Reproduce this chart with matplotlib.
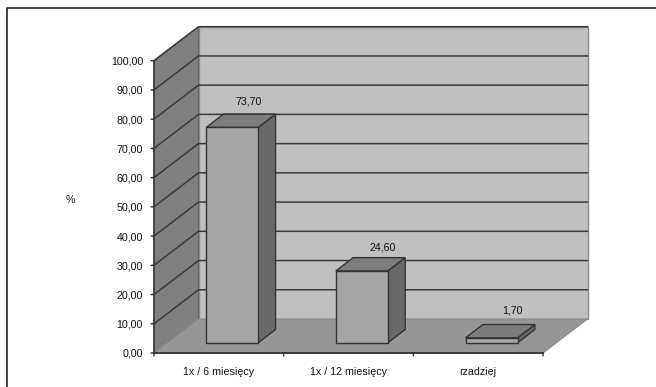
import matplotlib.pyplot as plt
from matplotlib.patches import Polygon

categories = ["1x / 6 miesięcy", "1x / 12 miesięcy", "rzadziej"]
values = [73.70, 24.60, 1.70]
value_labels = ["73,70", "24,60", "1,70"]
y_ticks = [0, 10, 20, 30, 40, 50, 60, 70, 80, 90, 100]
y_tick_labels = ["0,00", "10,00", "20,00", "30,00", "40,00", "50,00",
                 "60,00", "70,00", "80,00", "90,00", "100,00"]

plt.rcParams['font.family'] = ['Liberation Sans', 'DejaVu Sans']

W, H = 656, 387
FS = 7.7
TXT = '#111111'
fig = plt.figure(figsize=(W / 100, H / 100), dpi=100)
# axes box is the front plane of the 3d chart
ax = fig.add_axes([154 / W, 1 - 353 / H, (543 - 154) / W, (353 - 60.7) / H])
ax.set_xlim(0, 3)
ax.set_ylim(0, 100)
ax.axis('off')

# depth of the box, in data units
DX = 44.5 / (389 / 3)
DY = 34 / 2.923
EDGE = '#333333'


def pt(x, y, d=0):
    return (x + d * DX, y + d * DY)


def poly(points, color, z=1, lw=1.0, edge=EDGE):
    ax.add_patch(Polygon(points, closed=True, facecolor=color, edgecolor=edge,
                         linewidth=lw, zorder=z, clip_on=False))


# walls and floor
poly([pt(0, 0, 1), pt(3, 0, 1), pt(3, 100, 1), pt(0, 100, 1)], '#c0c0c0', 1, 1.0, '#8c8c8c')
poly([pt(0, 0), pt(0, 0, 1), pt(0, 100, 1), pt(0, 100)], '#808080', 1, 0.8, '#666666')
poly([pt(0, 0), pt(3, 0), pt(3, 0, 1), pt(0, 0, 1)], '#969696', 1, 0.8, '#8c8c8c')

# gridlines run along the side wall and then the back wall
for t in y_ticks[1:]:
    xs, ys = zip(pt(0, t), pt(0, t, 1), pt(3, t, 1))
    ax.plot(xs, ys, color='#3a3a3a', lw=1.1, zorder=2, clip_on=False)
ax.plot(*zip(pt(0, 0), pt(0, 100)), color='#333333', lw=1.1, zorder=2, clip_on=False)
ax.plot(*zip(pt(0, 0), pt(3, 0)), color='#333333', lw=1.3, zorder=2, clip_on=False)

# bars
BAR_W = 52 / (389 / 3)
D0, D1 = 0.30, 0.69
label_nudge = [(-1, 13), (3, 10), (4, 14)]
for i, v in enumerate(values):
    x0 = i + 0.5 - BAR_W / 2
    x1 = x0 + BAR_W
    poly([pt(x1, 0, D0), pt(x1, 0, D1), pt(x1, v, D1), pt(x1, v, D0)], '#696969', 3)
    poly([pt(x0, v, D0), pt(x1, v, D0), pt(x1, v, D1), pt(x0, v, D1)], '#7d7d7d', 3)
    poly([pt(x0, 0, D0), pt(x1, 0, D0), pt(x1, v, D0), pt(x0, v, D0)], '#a6a6a6', 3)
    lx, ly = pt(i + 0.5, v, D1)
    ax.annotate(value_labels[i], (lx, ly), xytext=label_nudge[i], textcoords='offset pixels',
                ha='center', va='center', fontsize=FS, color=TXT, zorder=5)

# ticks and labels
for t, lab in zip(y_ticks, y_tick_labels):
    ax.annotate('', (0, t), xytext=(-3, 0), textcoords='offset pixels',
                arrowprops=dict(arrowstyle='-', color='#333333', lw=1.0, shrinkA=0, shrinkB=0))
    ax.annotate(lab, (0, t), xytext=(-11, -1), textcoords='offset pixels',
                ha='right', va='center', fontsize=FS, color=TXT)
for i in range(len(categories) + 1):
    ax.annotate('', (i, 0), xytext=(0, -3), textcoords='offset pixels',
                arrowprops=dict(arrowstyle='-', color='#333333', lw=1.0, shrinkA=0, shrinkB=0))
for i, c in enumerate(categories):
    ax.annotate(c, (i + 0.5, 0), xytext=(0, -19), textcoords='offset pixels',
                ha='center', va='center', fontsize=FS, color=TXT)

fig.text(70 / W, 1 - 200 / H, '%', ha='center', va='center', fontsize=FS, color=TXT)

# scan of the page only shows the top and left frame lines
fig.add_artist(plt.Line2D([6.5 / W, 6.5 / W, 1], [0, 1 - 7.5 / H, 1 - 7.5 / H], color='#222222',
                          linewidth=1.2, transform=fig.transFigure))

fig.savefig('out.png', dpi=100)
